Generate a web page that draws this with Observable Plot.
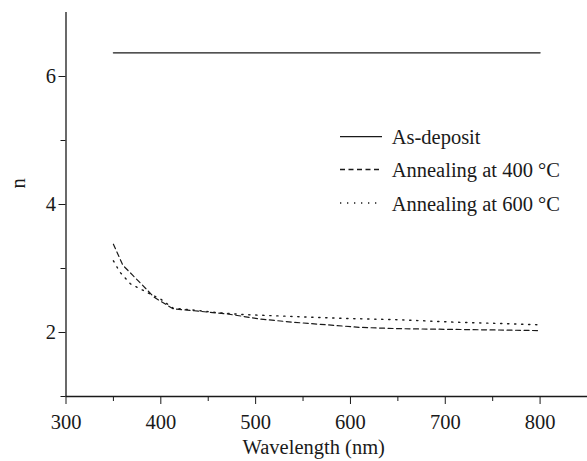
<!DOCTYPE html>
<html><head><meta charset="utf-8">
<script src="https://cdn.jsdelivr.net/npm/d3@7"></script>
<script src="https://cdn.jsdelivr.net/npm/@observablehq/plot@0.6"></script>
<style>
body{margin:0;background:#fff}
#wrap{position:relative;width:587px;height:461px}
#legend{position:absolute;left:0;top:0}
</style>
</head><body><div id="wrap"></div>
<script>
const seriesNames = ["As-deposit", "Annealing at 400 °C", "Annealing at 600 °C"];
const wlAs = [350, 800];
const nAs = [6.37, 6.37];
const wl400 = [350, 360, 370, 380, 393, 413, 435, 470, 505, 540, 575, 610, 650, 700, 750, 800];
const n400  = [3.38, 3.05, 2.9, 2.75, 2.55, 2.37, 2.34, 2.29, 2.21, 2.16, 2.12, 2.08, 2.06, 2.05, 2.04, 2.03];
const wl600 = [350, 357, 368, 385, 400, 413, 435, 460, 487, 540, 593, 650, 712, 760, 800];
const n600  = [3.12, 2.94, 2.76, 2.63, 2.52, 2.38, 2.35, 2.31, 2.28, 2.25, 2.22, 2.2, 2.16, 2.14, 2.12];
const xTicks = [300, 400, 500, 600, 700, 800];
const xMinor = [350, 450, 550, 650, 750];
const yTicks = [2, 4, 6];
const yMinor = [1, 3, 5];
const xTitle = "Wavelength (nm)";
const yTitle = "n";

const dashes = [null, "5,3.5", "1.3,5.7"];
const rows = (wl, n, s) => wl.map((w, i) => ({wl: w, n: n[i], s}));
const font = "'Liberation Serif', 'DejaVu Serif', serif";
const ink = "#1a1a1a";
const fs = 20.5;

const plot = Plot.plot({
  width: 587, height: 461,
  marginLeft: 65.5, marginRight: 0, marginTop: 12, marginBottom: 65,
  style: {fontFamily: font, fontSize: fs + "px", color: ink, background: "#fff"},
  x: {domain: [300, 850]},
  y: {domain: [1, 7]},
  marks: [
    Plot.axisX({ticks: xTicks, tickSize: 8, tickPadding: 9.5, tickFormat: d3.format("d"), label: null, fontSize: fs, stroke: ink}),
    Plot.axisX({ticks: xMinor, tickSize: 5, tickFormat: () => "", label: null, stroke: ink}),
    Plot.axisY({ticks: yTicks, tickSize: 7, tickPadding: 3, tickFormat: d3.format("d"), label: null, fontSize: fs, stroke: ink}),
    Plot.axisY({ticks: yMinor, tickSize: 5, tickFormat: () => "", label: null, stroke: ink}),
    Plot.ruleX([300], {stroke: ink, strokeWidth: 1.3}),
    Plot.ruleY([1], {stroke: ink, strokeWidth: 1.3}),
    Plot.line(rows(wlAs, nAs, 0), {x: "wl", y: "n", stroke: ink, strokeWidth: 1.3}),
    Plot.line(rows(wl400, n400, 1), {x: "wl", y: "n", stroke: ink, strokeWidth: 1.2, strokeDasharray: dashes[1]}),
    Plot.line(rows(wl600, n600, 2), {x: "wl", y: "n", stroke: ink, strokeWidth: 1.4, strokeDasharray: dashes[2]}),
    Plot.text([xTitle], {frameAnchor: "bottom", lineAnchor: "middle", dy: 51, dx: -13, fontSize: fs, fill: ink}),
    Plot.text([yTitle], {frameAnchor: "left", lineAnchor: "middle", rotate: -90, dx: -47.5, dy: -16, fontSize: fs, fill: ink})
  ]
});
const wrap = document.getElementById("wrap");
wrap.appendChild(plot);

// legend overlay
const lg = d3.select(wrap).append("svg").attr("id", "legend")
  .attr("width", 587).attr("height", 461)
  .style("font-family", font).style("font-size", fs + "px");
const rowY = [136.7, 169.5, 203];
seriesNames.forEach((name, i) => {
  const g = lg.append("g").attr("transform", `translate(0,${rowY[i]})`);
  g.append("line").attr("x1", 340).attr("x2", 382).attr("y1", 0).attr("y2", 0)
    .attr("stroke", ink).attr("stroke-width", 1.3)
    .attr("stroke-dasharray", dashes[i]);
  g.append("text").attr("x", 391.7).attr("y", 7.5).attr("fill", ink).text(name);
});
</script>
</body></html>
